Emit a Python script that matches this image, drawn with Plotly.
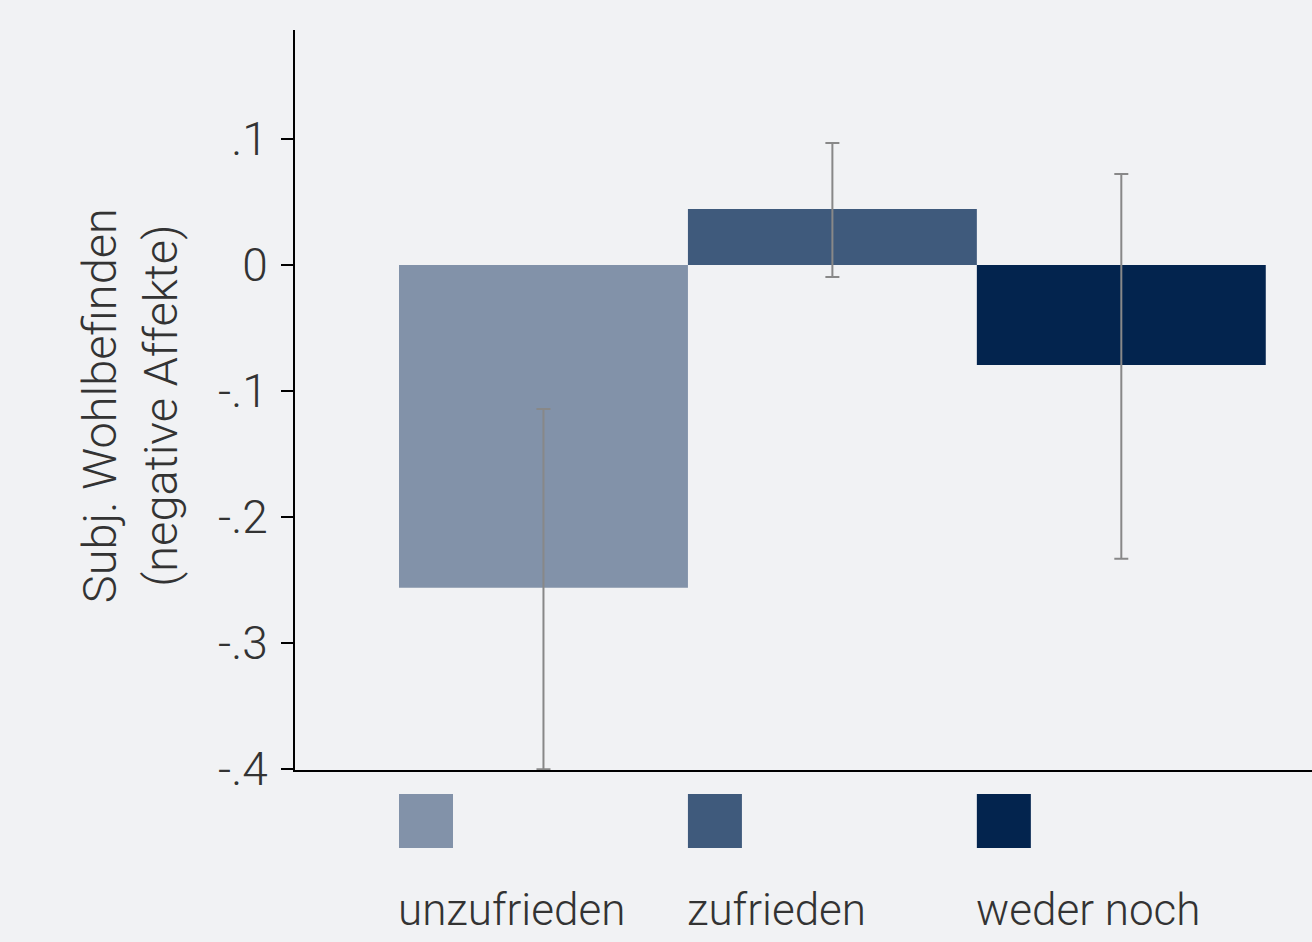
"""Subjective well-being (negative affect) by satisfaction group."""

import plotly.graph_objects as go

# data
groups = ["unzufrieden", "zufrieden", "weder noch"]
positions = [1, 2, 3]
means = [-0.2563, 0.0444, -0.0794]
ci_low = [-0.4005, -0.0095, -0.2333]
ci_high = [-0.1143, 0.0968, 0.0722]
colors = ["#8292a9", "#3f5a7c", "#03244e"]

y_ticks = [0.1, 0.0, -0.1, -0.2, -0.3, -0.4]
y_tick_labels = [".1", "0", "-.1", "-.2", "-.3", "-.4"]

FONT = "Roboto"
TEXT = "#333333"

fig = go.Figure()
for pos, name, mean, lo, hi, color in zip(positions, groups, means, ci_low, ci_high, colors):
    fig.add_trace(
        go.Bar(
            x=[pos],
            y=[mean],
            width=1,
            name=name,
            marker={"color": color, "line": {"width": 0}},
            error_y={
                "type": "data",
                "symmetric": False,
                "array": [hi - mean],
                "arrayminus": [mean - lo],
                "color": "#888888",
                "thickness": 2,
                "width": 7,
            },
            showlegend=False,
        )
    )

# hand-made legend: swatch with the label underneath
for pos, name, color in zip(positions, groups, colors):
    fig.add_shape(
        type="rect",
        xref="x",
        yref="paper",
        x0=pos - 0.5,
        x1=pos - 0.5 + 54 / 289,
        y0=-0.1054,
        y1=-0.0324,
        fillcolor=color,
        line_width=0,
    )
    fig.add_annotation(
        x=pos - 0.5,
        y=-0.189,
        xref="x",
        yref="paper",
        xshift=-3,
        text=name,
        showarrow=False,
        xanchor="left",
        yanchor="middle",
        font={"family": FONT, "size": 44, "color": TEXT, "weight": 300},
    )

fig.add_annotation(
    x=-0.162,
    y=0.492,
    xref="paper",
    yref="paper",
    text="Subj. Wohlbefinden<br>(negative Affekte)",
    textangle=-90,
    showarrow=False,
    xanchor="center",
    yanchor="middle",
    font={"family": FONT, "size": 47, "color": TEXT, "weight": 300},
)

fig.update_layout(
    width=1312,
    height=942,
    margin={"l": 295, "r": 0, "t": 30, "b": 172},
    paper_bgcolor="#f1f2f4",
    plot_bgcolor="#f1f2f4",
    barmode="overlay",
    font={"family": FONT, "color": TEXT, "weight": 300},
)
fig.update_xaxes(
    range=[0.14, 3.66],
    showticklabels=False,
    ticks="",
    showgrid=False,
    zeroline=False,
    showline=True,
    linecolor="black",
    linewidth=2,
)
fig.update_yaxes(
    range=[-0.401, 0.1865],
    tickvals=y_ticks,
    ticktext=y_tick_labels,
    ticks="outside",
    ticklen=12,
    tickwidth=2,
    tickcolor="black",
    ticklabelstandoff=4,
    tickfont={"family": FONT, "size": 46, "color": TEXT, "weight": 300},
    showgrid=False,
    zeroline=False,
    showline=True,
    linecolor="black",
    linewidth=2,
)

fig.write_html(
    "out.html",
    config={"displayModeBar": False},
    post_script="document.body.style.margin='0';",
)
